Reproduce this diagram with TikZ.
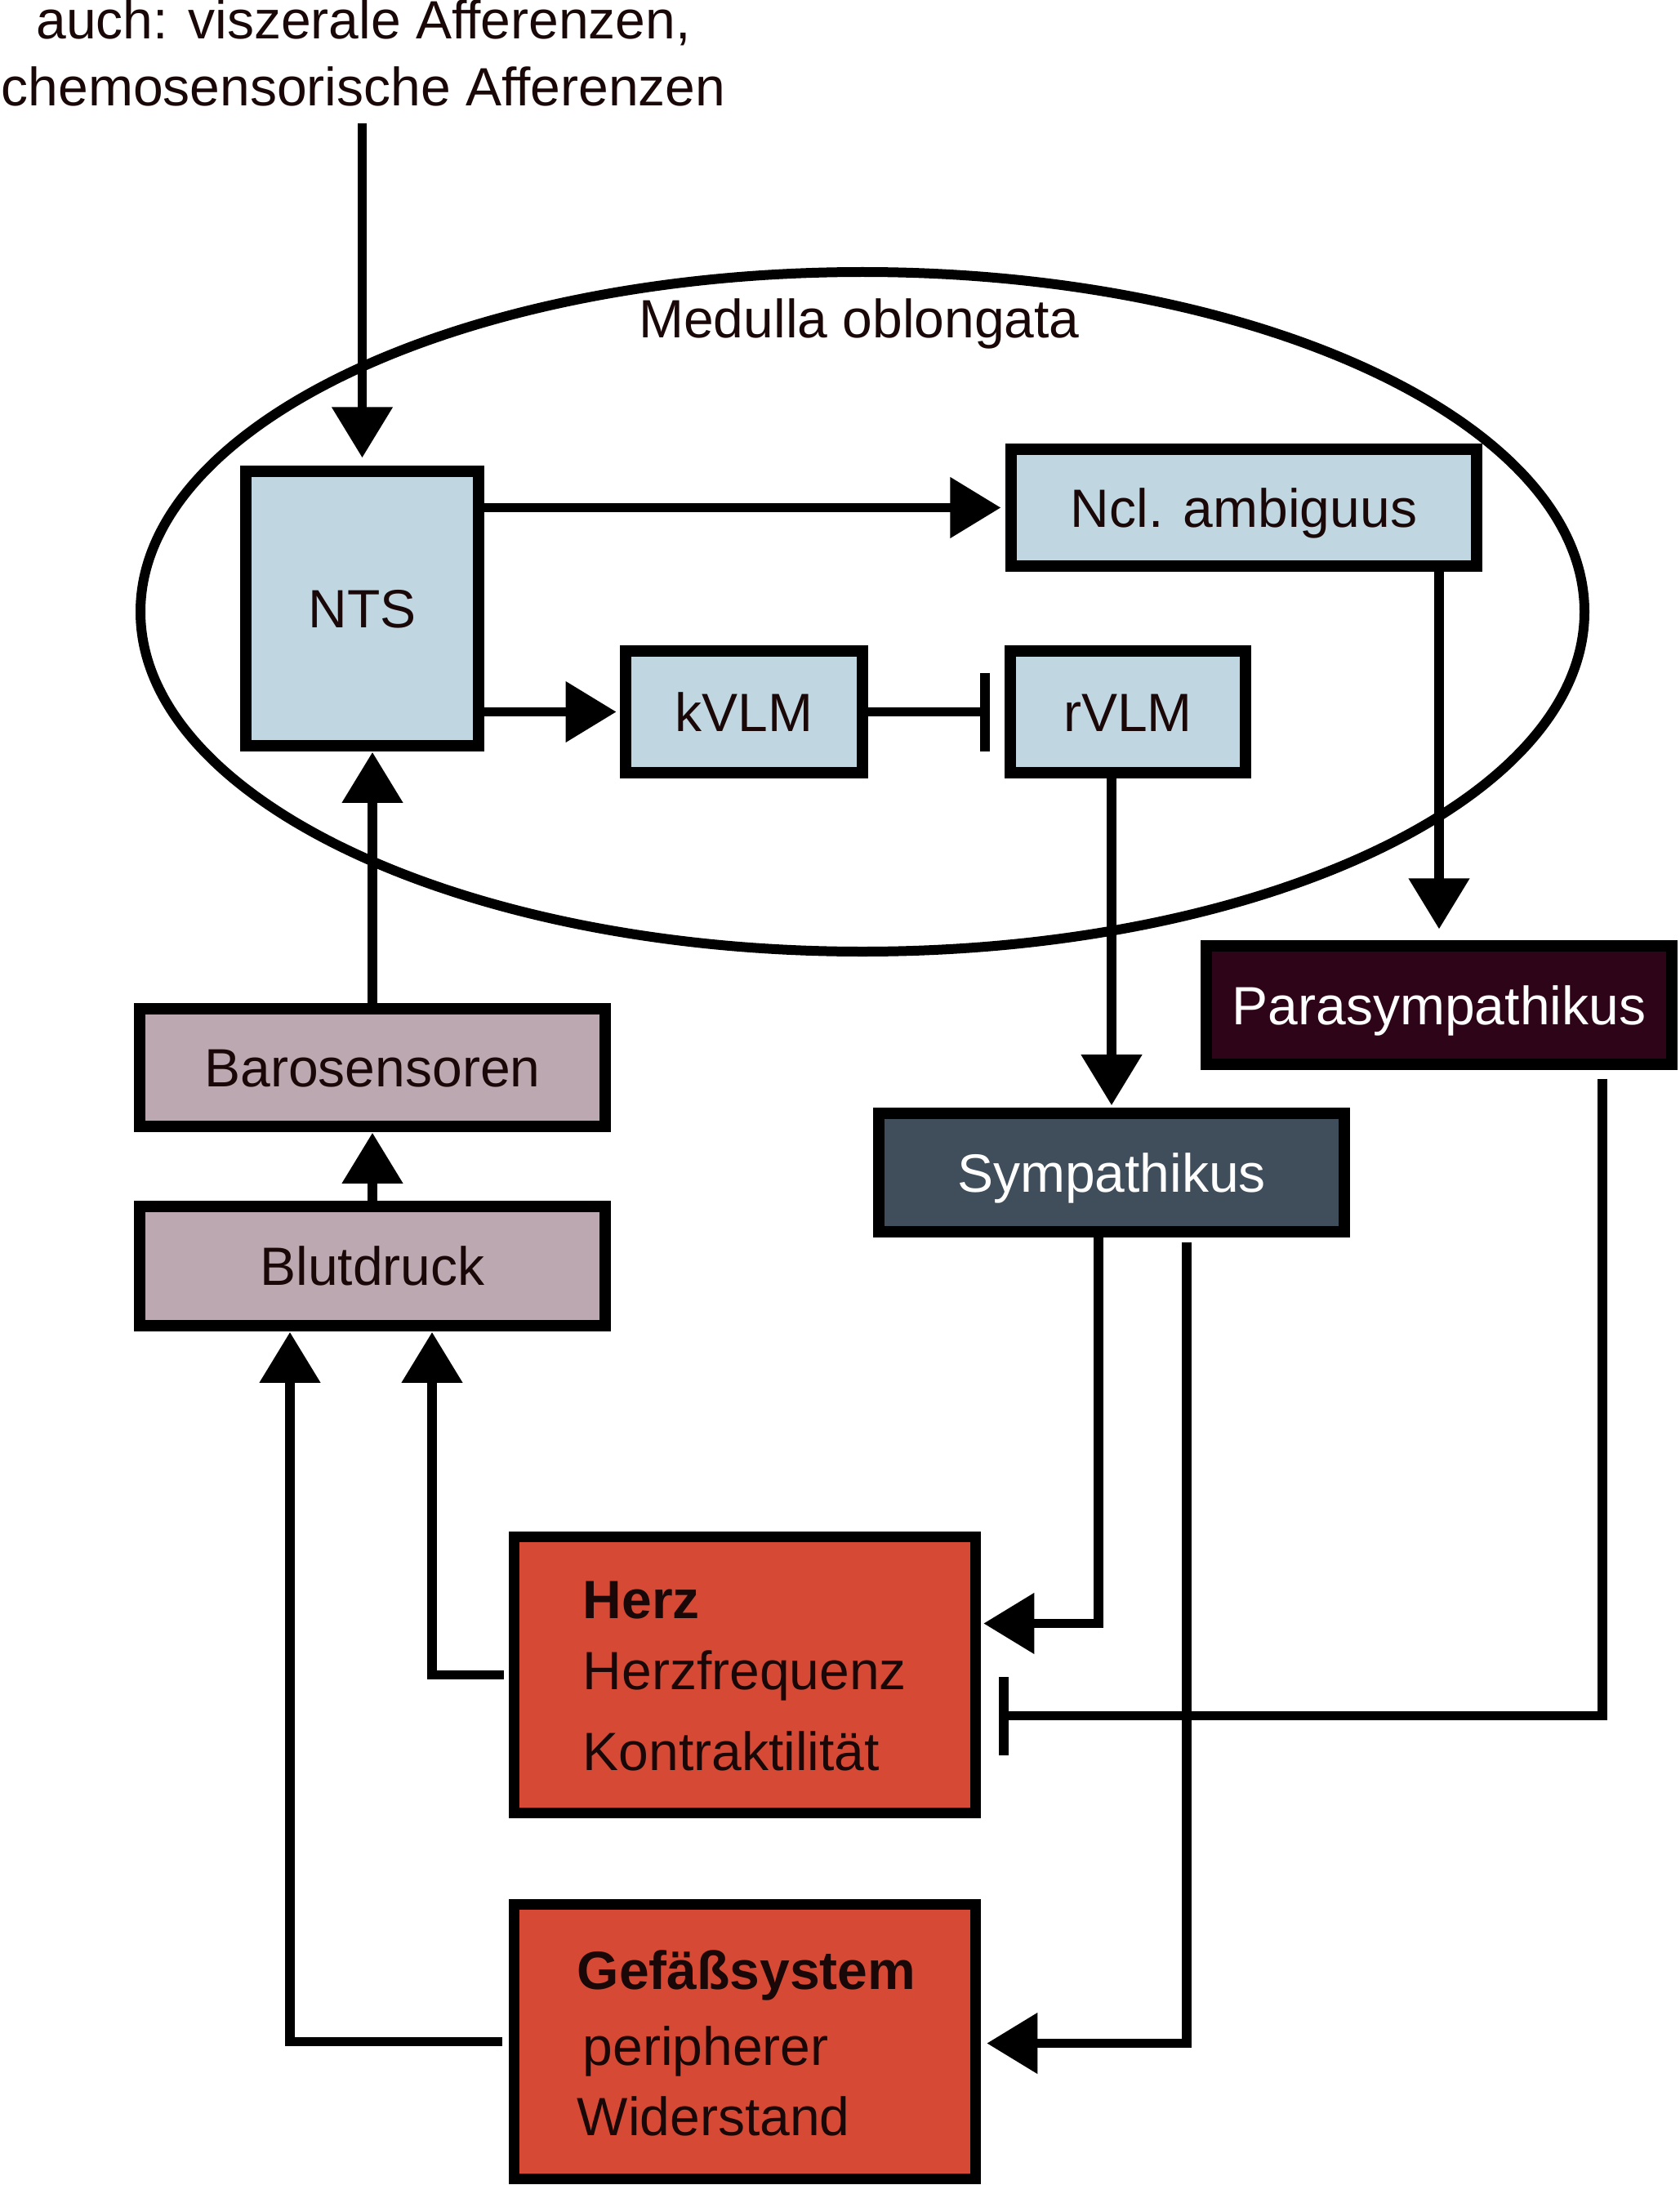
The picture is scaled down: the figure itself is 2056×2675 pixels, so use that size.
\documentclass[tikz,border=0pt]{standalone}
\usepackage{fontspec}
\setmainfont{Liberation Sans}
\usetikzlibrary{arrows.meta,shapes.geometric,calc}
\definecolor{lblue}{RGB}{192,214,224}
\definecolor{mauve}{RGB}{187,168,176}
\definecolor{parac}{RGB}{46,4,24}
\definecolor{sympc}{RGB}{64,78,91}
\definecolor{organ}{RGB}{214,74,53}
\definecolor{ink}{RGB}{26,8,8}
\begin{document}
\begin{tikzpicture}[x=0.25pt,y=-0.25pt,
  box/.style={draw=black, line width=3.3pt, rectangle, inner sep=0pt, text=ink,
    font=\fontsize{16.5}{20.5}\selectfont, text height=11.8pt, text depth=0pt},
  lbl/.style={inner sep=0pt, text=ink, font=\fontsize{16.5}{20.5}\selectfont},
  conn/.style={line width=2.8pt, -{Triangle[length=15.5pt,width=18pt]}},
  inh/.style={line width=2.8pt, -{Bar[width=24pt,line width=3pt]}}
]
\useasboundingbox[fill=white] (0,0) rectangle (2056,2675);

% Medulla oblongata
\node[draw, ellipse, line width=3pt, minimum width=442pt, minimum height=208pt, inner sep=0pt] (med) at (1056,749) {};
\node[lbl, anchor=base] (medlbl) at (1052,414) {Medulla oblongata};

% source text
\node[lbl, anchor=base] (src1) at (445,48) {auch: viszerale Afferenzen,};
\node[lbl, anchor=base] (src2) at (445,130) {chemosensorische Afferenzen};

% boxes
\node[box, fill=lblue, minimum width=71.25pt, minimum height=84pt] (nts) at (443.5,745) {NTS};
\node[box, fill=lblue, minimum width=142.5pt, minimum height=35.75pt] (ncl) at (1523,621.5) {Ncl. ambiguus};
\node[box, fill=lblue, minimum width=72.5pt, minimum height=37.25pt] (kvlm) at (911,871.5) {kVLM};
\node[box, fill=lblue, minimum width=72pt, minimum height=37.25pt] (rvlm) at (1381,871.5) {rVLM};
\node[box, fill=parac, text=white, minimum width=142.5pt, minimum height=36.25pt] (para) at (1762,1230.5) {Parasympathikus};
\node[box, fill=mauve, minimum width=142.5pt, minimum height=36pt] (baro) at (456,1307) {Barosensoren};
\node[box, fill=mauve, minimum width=142.5pt, minimum height=36.5pt] (blut) at (456,1550) {Blutdruck};
\node[box, fill=sympc, text=white, minimum width=142.5pt, minimum height=36.25pt] (symp) at (1361,1435.5) {Sympathikus};
\node[box, fill=organ, minimum width=141.25pt, minimum height=84.5pt] (herz) at (912,2050.5) {};
\node[box, fill=organ, minimum width=141.25pt, minimum height=84pt] (gef) at (912,2499.5) {};

% organ texts
\node[lbl, anchor=base west, font=\fontsize{16.5}{20.5}\selectfont\bfseries] (h1) at (713,1981) {Herz};
\node[lbl, anchor=base west] (h2) at (713,2068) {Herzfrequenz};
\node[lbl, anchor=base west] (h3) at (713,2167) {Kontraktilität};
\node[lbl, anchor=base west, font=\fontsize{16.5}{20.5}\selectfont\bfseries] (g1) at (706,2435) {Gefäßsystem};
\node[lbl, anchor=base west] (g2) at (713,2528) {peripherer};
\node[lbl, anchor=base west] (g3) at (706,2614) {Widerstand};

% connectors inside medulla
\draw[conn, shorten <=5pt, shorten >=2.5pt] (src2.south -| nts.north) -- (nts.north);
\draw[conn, shorten >=1.5pt] (nts.east |- ncl.west) -- (ncl.west);
\draw[conn, shorten >=1.2pt] (nts.east |- kvlm.west) -- (kvlm.west);
\draw[inh, shorten >=4.5pt] (kvlm.east) -- (rvlm.west);
\draw[conn, shorten >=3.5pt] (ncl.south -| para.north) -- (para.north);
\draw[conn, shorten >=0.8pt] (rvlm.south -| symp.north) -- (symp.north);

% sensor chain
\draw[conn, shorten >=0.3pt] (baro.north) -- (nts.south -| baro.north);
\draw[conn, shorten >=0.3pt] (blut.north) -- (baro.south);

% feedback to Blutdruck
\draw[conn, shorten <=1.5pt, shorten >=0.3pt] (herz.west) -| ($(blut.south)+(73,0)$);
\draw[conn, shorten <=2pt, shorten >=0.3pt] (gef.west) -| ($(blut.south)+(-101,0)$);

% efferents
\draw[conn, shorten >=0.8pt] ($(symp.south)+(-16,0)$) |- ($(herz.east)+(0,-63)$);
\draw[conn, shorten <=1.5pt, shorten >=1.8pt] ($(symp.south)+(92,0)$) |- ($(gef.east)+(0,2)$);
\draw[inh, shorten <=2.75pt, shorten >=5.5pt] ($(para.south)+(200,0)$) |- ($(herz.east)+(0,50)$);
\end{tikzpicture}
\end{document}
